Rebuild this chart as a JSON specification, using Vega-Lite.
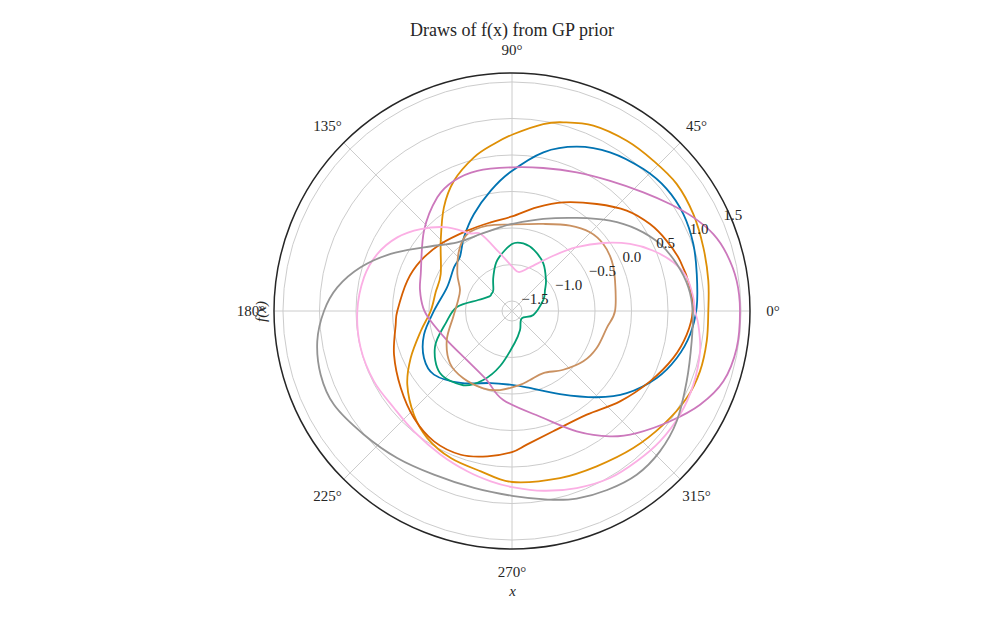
{
  "$schema": "https://vega.github.io/schema/vega-lite/v6.json",
  "width": 476,
  "height": 476,
  "autosize": "none",
  "padding": {"left": 274, "top": 73, "right": 250, "bottom": 69},
  "background": "white",
  "title": {"text": "Draws of f(x) from GP prior", "font": "Liberation Serif", "fontSize": 18, "fontWeight": "normal", "color": "#262626", "anchor": "middle", "offset": 3},
  "config": {
    "view": {"stroke": null},
    "axis": {"domain": false, "ticks": false, "labels": false, "grid": false, "titleFont": "Liberation Serif", "titleFontSize": 15, "titleFontWeight": "normal", "titleColor": "#262626", "titleFontStyle": "italic", "minExtent": 0},
    "axisX": {"titlePadding": 34},
    "axisY": {"titlePadding": 6}
  },
  "datasets": {
    "curves": [
      {"draw": "d0", "angle": 1.1, "f": 0.893}, {"draw": "d0", "angle": 11.3, "f": 0.944}, {"draw": "d0", "angle": 20.3, "f": 1.011}, {"draw": "d0", "angle": 29.5, "f": 1.06}, {"draw": "d0", "angle": 38.3, "f": 1.062}, {"draw": "d0", "angle": 47.2, "f": 1.012}, {"draw": "d0", "angle": 58.3, "f": 0.918}, {"draw": "d0", "angle": 68.5, "f": 0.782}, {"draw": "d0", "angle": 78.8, "f": 0.579}, {"draw": "d0", "angle": 90.8, "f": 0.263}, {"draw": "d0", "angle": 100, "f": 0.037}, {"draw": "d0", "angle": 111.4, "f": -0.21}, {"draw": "d0", "angle": 123.1, "f": -0.432}, {"draw": "d0", "angle": 133.8, "f": -0.607}, {"draw": "d0", "angle": 143, "f": -0.642}, {"draw": "d0", "angle": 160, "f": -0.69}, {"draw": "d0", "angle": 179.8, "f": -0.569}, {"draw": "d0", "angle": 195, "f": -0.389}, {"draw": "d0", "angle": 208.1, "f": -0.27}, {"draw": "d0", "angle": 219.2, "f": -0.258}, {"draw": "d0", "angle": 234.5, "f": -0.426}, {"draw": "d0", "angle": 253.5, "f": -0.608}, {"draw": "d0", "angle": 268.4, "f": -0.627}, {"draw": "d0", "angle": 280.9, "f": -0.573}, {"draw": "d0", "angle": 300, "f": -0.323}, {"draw": "d0", "angle": 314.5, "f": 0.019}, {"draw": "d0", "angle": 324.4, "f": 0.295}, {"draw": "d0", "angle": 335.2, "f": 0.548}, {"draw": "d0", "angle": 344.1, "f": 0.71}, {"draw": "d0", "angle": 352.4, "f": 0.823},

      {"draw": "d1", "angle": 0, "f": 1.052}, {"draw": "d1", "angle": 8.8, "f": 1.084}, {"draw": "d1", "angle": 18.4, "f": 1.125}, {"draw": "d1", "angle": 28.1, "f": 1.179}, {"draw": "d1", "angle": 37.6, "f": 1.212}, {"draw": "d1", "angle": 46.8, "f": 1.189}, {"draw": "d1", "angle": 56, "f": 1.175}, {"draw": "d1", "angle": 66.3, "f": 1.136}, {"draw": "d1", "angle": 74.8, "f": 1.041}, {"draw": "d1", "angle": 80.5, "f": 0.96}, {"draw": "d1", "angle": 89.4, "f": 0.788}, {"draw": "d1", "angle": 96.2, "f": 0.664}, {"draw": "d1", "angle": 103.9, "f": 0.531}, {"draw": "d1", "angle": 114, "f": 0.316}, {"draw": "d1", "angle": 123.3, "f": 0.062}, {"draw": "d1", "angle": 135.4, "f": -0.266}, {"draw": "d1", "angle": 152.6, "f": -0.537}, {"draw": "d1", "angle": 166, "f": -0.56}, {"draw": "d1", "angle": 180, "f": -0.523}, {"draw": "d1", "angle": 192.5, "f": -0.356}, {"draw": "d1", "angle": 204.9, "f": -0.107}, {"draw": "d1", "angle": 215.1, "f": 0.116}, {"draw": "d1", "angle": 226.6, "f": 0.318}, {"draw": "d1", "angle": 236.3, "f": 0.455}, {"draw": "d1", "angle": 247.4, "f": 0.545}, {"draw": "d1", "angle": 259, "f": 0.6}, {"draw": "d1", "angle": 270, "f": 0.705}, {"draw": "d1", "angle": 286, "f": 0.744}, {"draw": "d1", "angle": 298.6, "f": 0.786}, {"draw": "d1", "angle": 311.5, "f": 0.87}, {"draw": "d1", "angle": 323.1, "f": 0.956}, {"draw": "d1", "angle": 333.5, "f": 1.037}, {"draw": "d1", "angle": 342.2, "f": 1.067}, {"draw": "d1", "angle": 351.2, "f": 1.062},

      {"draw": "d2", "angle": 19.4, "f": -1.182}, {"draw": "d2", "angle": 32.5, "f": -1.101}, {"draw": "d2", "angle": 42.4, "f": -1.007}, {"draw": "d2", "angle": 56.7, "f": -0.856}, {"draw": "d2", "angle": 70, "f": -0.75}, {"draw": "d2", "angle": 80, "f": -0.7}, {"draw": "d2", "angle": 90, "f": -0.72}, {"draw": "d2", "angle": 106, "f": -0.91}, {"draw": "d2", "angle": 118.6, "f": -1.103}, {"draw": "d2", "angle": 131.7, "f": -1.252}, {"draw": "d2", "angle": 140, "f": -1.27}, {"draw": "d2", "angle": 147, "f": -1.27}, {"draw": "d2", "angle": 162, "f": -1.15}, {"draw": "d2", "angle": 175.8, "f": -0.88}, {"draw": "d2", "angle": 190, "f": -0.72}, {"draw": "d2", "angle": 204.9, "f": -0.474}, {"draw": "d2", "angle": 220.7, "f": -0.336}, {"draw": "d2", "angle": 236.7, "f": -0.42}, {"draw": "d2", "angle": 247.4, "f": -0.614}, {"draw": "d2", "angle": 258, "f": -0.87}, {"draw": "d2", "angle": 275, "f": -1.2}, {"draw": "d2", "angle": 293, "f": -1.355}, {"draw": "d2", "angle": 323, "f": -1.471}, {"draw": "d2", "angle": 349.4, "f": -1.34},

      {"draw": "d3", "angle": 0, "f": 0.838}, {"draw": "d3", "angle": 7.6, "f": 0.823}, {"draw": "d3", "angle": 16.7, "f": 0.766}, {"draw": "d3", "angle": 24.4, "f": 0.69}, {"draw": "d3", "angle": 32.2, "f": 0.597}, {"draw": "d3", "angle": 41.2, "f": 0.451}, {"draw": "d3", "angle": 51.6, "f": 0.233}, {"draw": "d3", "angle": 64.7, "f": 0.01}, {"draw": "d3", "angle": 76.6, "f": -0.177}, {"draw": "d3", "angle": 90, "f": -0.342}, {"draw": "d3", "angle": 103.5, "f": -0.388}, {"draw": "d3", "angle": 119.1, "f": -0.378}, {"draw": "d3", "angle": 136.8, "f": -0.297}, {"draw": "d3", "angle": 151.1, "f": -0.21}, {"draw": "d3", "angle": 163.9, "f": -0.144}, {"draw": "d3", "angle": 180, "f": -0.066}, {"draw": "d3", "angle": 186.7, "f": -0.033}, {"draw": "d3", "angle": 200.3, "f": 0.086}, {"draw": "d3", "angle": 214.7, "f": 0.216}, {"draw": "d3", "angle": 227.5, "f": 0.351}, {"draw": "d3", "angle": 239.1, "f": 0.444}, {"draw": "d3", "angle": 250.4, "f": 0.453}, {"draw": "d3", "angle": 260.4, "f": 0.382}, {"draw": "d3", "angle": 270, "f": 0.295}, {"draw": "d3", "angle": 276.3, "f": 0.205}, {"draw": "d3", "angle": 288.9, "f": 0.105}, {"draw": "d3", "angle": 305.8, "f": 0.114}, {"draw": "d3", "angle": 320.1, "f": 0.292}, {"draw": "d3", "angle": 333, "f": 0.485}, {"draw": "d3", "angle": 343.8, "f": 0.664}, {"draw": "d3", "angle": 352.3, "f": 0.778},

      {"draw": "d4", "angle": 0, "f": 1.486}, {"draw": "d4", "angle": 7.7, "f": 1.468}, {"draw": "d4", "angle": 14.9, "f": 1.405}, {"draw": "d4", "angle": 20.9, "f": 1.315}, {"draw": "d4", "angle": 27.3, "f": 1.159}, {"draw": "d4", "angle": 34.1, "f": 0.977}, {"draw": "d4", "angle": 42.1, "f": 0.788}, {"draw": "d4", "angle": 53, "f": 0.596}, {"draw": "d4", "angle": 65, "f": 0.459}, {"draw": "d4", "angle": 77.7, "f": 0.368}, {"draw": "d4", "angle": 90, "f": 0.331}, {"draw": "d4", "angle": 103.9, "f": 0.342}, {"draw": "d4", "angle": 114, "f": 0.316}, {"draw": "d4", "angle": 123.3, "f": 0.226}, {"draw": "d4", "angle": 137.6, "f": -0.005}, {"draw": "d4", "angle": 157.9, "f": -0.288}, {"draw": "d4", "angle": 167.1, "f": -0.344}, {"draw": "d4", "angle": 178, "f": -0.42}, {"draw": "d4", "angle": 186.3, "f": -0.507}, {"draw": "d4", "angle": 204, "f": -0.659}, {"draw": "d4", "angle": 227.2, "f": -0.723}, {"draw": "d4", "angle": 249.9, "f": -0.63}, {"draw": "d4", "angle": 264.4, "f": -0.412}, {"draw": "d4", "angle": 286.3, "f": -0.11}, {"draw": "d4", "angle": 298.3, "f": 0.234}, {"draw": "d4", "angle": 308, "f": 0.542}, {"draw": "d4", "angle": 315.6, "f": 0.753}, {"draw": "d4", "angle": 325.1, "f": 1.003}, {"draw": "d4", "angle": 333.5, "f": 1.241}, {"draw": "d4", "angle": 341.6, "f": 1.414}, {"draw": "d4", "angle": 350.6, "f": 1.482},

      {"draw": "d5", "angle": 0, "f": -0.226}, {"draw": "d5", "angle": 16.4, "f": -0.166}, {"draw": "d5", "angle": 26.8, "f": -0.107}, {"draw": "d5", "angle": 36.3, "f": -0.086}, {"draw": "d5", "angle": 45.3, "f": -0.119}, {"draw": "d5", "angle": 55.8, "f": -0.223}, {"draw": "d5", "angle": 70.2, "f": -0.37}, {"draw": "d5", "angle": 90, "f": -0.452}, {"draw": "d5", "angle": 106.1, "f": -0.421}, {"draw": "d5", "angle": 120.1, "f": -0.418}, {"draw": "d5", "angle": 131.3, "f": -0.537}, {"draw": "d5", "angle": 145.9, "f": -0.733}, {"draw": "d5", "angle": 158, "f": -0.869}, {"draw": "d5", "angle": 172, "f": -0.88}, {"draw": "d5", "angle": 185.5, "f": -0.829}, {"draw": "d5", "angle": 204, "f": -0.659}, {"draw": "d5", "angle": 220.1, "f": -0.526}, {"draw": "d5", "angle": 234.1, "f": -0.499}, {"draw": "d5", "angle": 249.6, "f": -0.507}, {"draw": "d5", "angle": 261.4, "f": -0.542}, {"draw": "d5", "angle": 276.2, "f": -0.618}, {"draw": "d5", "angle": 284.6, "f": -0.66}, {"draw": "d5", "angle": 296.8, "f": -0.685}, {"draw": "d5", "angle": 311.1, "f": -0.569}, {"draw": "d5", "angle": 324.8, "f": -0.441}, {"draw": "d5", "angle": 336.4, "f": -0.371}, {"draw": "d5", "angle": 349.8, "f": -0.319},

      {"draw": "d6", "angle": 0, "f": 0.87}, {"draw": "d6", "angle": 4.3, "f": 0.853}, {"draw": "d6", "angle": 10.9, "f": 0.8}, {"draw": "d6", "angle": 16.8, "f": 0.671}, {"draw": "d6", "angle": 23.1, "f": 0.467}, {"draw": "d6", "angle": 29.6, "f": 0.222}, {"draw": "d6", "angle": 36.7, "f": -0.078}, {"draw": "d6", "angle": 44.6, "f": -0.393}, {"draw": "d6", "angle": 53.2, "f": -0.692}, {"draw": "d6", "angle": 67.6, "f": -0.989}, {"draw": "d6", "angle": 79.8, "f": -1.095}, {"draw": "d6", "angle": 90, "f": -1.027}, {"draw": "d6", "angle": 102.7, "f": -0.808}, {"draw": "d6", "angle": 112.1, "f": -0.499}, {"draw": "d6", "angle": 118.4, "f": -0.427}, {"draw": "d6", "angle": 127.7, "f": -0.188}, {"draw": "d6", "angle": 138.1, "f": 0.044}, {"draw": "d6", "angle": 147.3, "f": 0.23}, {"draw": "d6", "angle": 157.1, "f": 0.367}, {"draw": "d6", "angle": 167.2, "f": 0.442}, {"draw": "d6", "angle": 180, "f": 0.482}, {"draw": "d6", "angle": 193.7, "f": 0.497}, {"draw": "d6", "angle": 207, "f": 0.485}, {"draw": "d6", "angle": 219.4, "f": 0.455}, {"draw": "d6", "angle": 230.8, "f": 0.489}, {"draw": "d6", "angle": 243.6, "f": 0.56}, {"draw": "d6", "angle": 254.4, "f": 0.642}, {"draw": "d6", "angle": 262.9, "f": 0.714}, {"draw": "d6", "angle": 270, "f": 0.774}, {"draw": "d6", "angle": 279.9, "f": 0.862}, {"draw": "d6", "angle": 290.1, "f": 0.945}, {"draw": "d6", "angle": 300.4, "f": 1.015}, {"draw": "d6", "angle": 309.7, "f": 1.038}, {"draw": "d6", "angle": 318.6, "f": 1.064}, {"draw": "d6", "angle": 328.3, "f": 1.067}, {"draw": "d6", "angle": 337.9, "f": 1.044}, {"draw": "d6", "angle": 347.9, "f": 0.997}, {"draw": "d6", "angle": 355.8, "f": 0.922},

      {"draw": "d7", "angle": 0, "f": 0.838}, {"draw": "d7", "angle": 7.7, "f": 0.8}, {"draw": "d7", "angle": 15.9, "f": 0.71}, {"draw": "d7", "angle": 24.4, "f": 0.589}, {"draw": "d7", "angle": 33.3, "f": 0.407}, {"draw": "d7", "angle": 42.7, "f": 0.189}, {"draw": "d7", "angle": 55.2, "f": -0.085}, {"draw": "d7", "angle": 71.2, "f": -0.305}, {"draw": "d7", "angle": 90, "f": -0.445}, {"draw": "d7", "angle": 97.7, "f": -0.479}, {"draw": "d7", "angle": 112.1, "f": -0.499}, {"draw": "d7", "angle": 128.5, "f": -0.434}, {"draw": "d7", "angle": 144.1, "f": -0.149}, {"draw": "d7", "angle": 154.8, "f": 0.199}, {"draw": "d7", "angle": 163.9, "f": 0.521}, {"draw": "d7", "angle": 172.3, "f": 0.778}, {"draw": "d7", "angle": 180, "f": 0.938}, {"draw": "d7", "angle": 188.8, "f": 1.062}, {"draw": "d7", "angle": 198.4, "f": 1.125}, {"draw": "d7", "angle": 207.8, "f": 1.119}, {"draw": "d7", "angle": 219.9, "f": 1.005}, {"draw": "d7", "angle": 232, "f": 0.918}, {"draw": "d7", "angle": 244.5, "f": 0.847}, {"draw": "d7", "angle": 257.9, "f": 0.842}, {"draw": "d7", "angle": 270, "f": 0.895}, {"draw": "d7", "angle": 280.8, "f": 0.992}, {"draw": "d7", "angle": 289, "f": 1.08}, {"draw": "d7", "angle": 298, "f": 1.14}, {"draw": "d7", "angle": 307.3, "f": 1.182}, {"draw": "d7", "angle": 316.5, "f": 1.156}, {"draw": "d7", "angle": 326.2, "f": 1.078}, {"draw": "d7", "angle": 338.1, "f": 0.942}, {"draw": "d7", "angle": 350.4, "f": 0.859}
    ],
    "rings": [{"f": -1.5}, {"f": -1.0}, {"f": -0.5}, {"f": 0.0}, {"f": 0.5}, {"f": 1.0}, {"f": 1.5}],
    "outer": [{"f": 1.623}],
    "spokes": [{"angle": 0}, {"angle": 45}, {"angle": 90}, {"angle": 135}, {"angle": 180}, {"angle": 225}, {"angle": 270}, {"angle": 315}],
    "anglabels": [
      {"angle": 0, "label": "0°"}, {"angle": 45, "label": "45°"}, {"angle": 90, "label": "90°"}, {"angle": 135, "label": "135°"},
      {"angle": 180, "label": "180°"}, {"angle": 225, "label": "225°"}, {"angle": 270, "label": "270°"}, {"angle": 315, "label": "315°"}
    ],
    "rlabels": [
      {"f": -1.5, "label": "−1.5"}, {"f": -1.0, "label": "−1.0"}, {"f": -0.5, "label": "−0.5"}, {"f": 0.0, "label": "0.0"},
      {"f": 0.5, "label": "0.5"}, {"f": 1.0, "label": "1.0"}, {"f": 1.5, "label": "1.5"}
    ]
  },
  "layer": [
    {
      "data": {"name": "spokes"},
      "transform": [
        {"calculate": "0", "as": "cx"},
        {"calculate": "0", "as": "cy"},
        {"calculate": "3.26 * cos(datum.angle * PI / 180)", "as": "ex"},
        {"calculate": "3.26 * sin(datum.angle * PI / 180)", "as": "ey"}
      ],
      "mark": {"type": "rule", "color": "#cccccc", "strokeWidth": 1},
      "encoding": {
        "x": {"field": "cx", "type": "quantitative", "scale": {"domain": [-3.26, 3.26], "nice": false, "zero": false}, "title": "x"},
        "y": {"field": "cy", "type": "quantitative", "scale": {"domain": [-3.26, 3.26], "nice": false, "zero": false}, "title": "f(x)"},
        "x2": {"field": "ex"},
        "y2": {"field": "ey"}
      }
    },
    {
      "data": {"name": "rings"},
      "mark": {"type": "arc", "theta": 0, "theta2": 6.2832, "radius2": 0, "filled": false, "stroke": "#cccccc", "strokeWidth": 1},
      "encoding": {
        "radius": {"field": "f", "type": "quantitative", "stack": null, "scale": {"type": "linear", "domain": [-1.637, 1.623], "range": [0, 238], "zero": false, "nice": false}}
      }
    },
    {
      "data": {"name": "outer"},
      "mark": {"type": "arc", "theta": 0, "theta2": 6.2832, "radius2": 0, "filled": false, "stroke": "#262626", "strokeWidth": 1.5},
      "encoding": {
        "radius": {"field": "f", "type": "quantitative", "stack": null, "scale": {"type": "linear", "domain": [-1.637, 1.623], "range": [0, 238], "zero": false, "nice": false}}
      }
    },
    {
      "data": {"name": "curves"},
      "transform": [
        {"calculate": "(datum.f + 1.637) * cos(datum.angle * PI / 180)", "as": "px"},
        {"calculate": "(datum.f + 1.637) * sin(datum.angle * PI / 180)", "as": "py"}
      ],
      "mark": {"type": "line", "interpolate": "cardinal-closed", "strokeWidth": 1.8},
      "encoding": {
        "x": {"field": "px", "type": "quantitative", "title": "x"},
        "y": {"field": "py", "type": "quantitative", "title": "f(x)"},
        "color": {"field": "draw", "type": "nominal", "legend": null,
          "scale": {"domain": ["d0", "d1", "d2", "d3", "d4", "d5", "d6", "d7"], "range": ["#0173B2", "#DE8F05", "#029E73", "#D55E00", "#CC78BC", "#CA9161", "#FBAFE4", "#949494"]}},
        "order": {"field": "angle", "type": "quantitative"}
      }
    },
    {
      "data": {"name": "anglabels"},
      "transform": [
        {"calculate": "3.575 * cos(datum.angle * PI / 180)", "as": "lx"},
        {"calculate": "3.575 * sin(datum.angle * PI / 180)", "as": "ly"}
      ],
      "mark": {"type": "text", "font": "Liberation Serif", "fontSize": 15, "color": "#262626", "align": "center", "baseline": "middle"},
      "encoding": {
        "x": {"field": "lx", "type": "quantitative", "title": "x"},
        "y": {"field": "ly", "type": "quantitative", "title": "f(x)"},
        "text": {"field": "label"}
      }
    },
    {
      "data": {"name": "rlabels"},
      "transform": [
        {"calculate": "(datum.f + 1.637) * cos(22.5 * PI / 180)", "as": "lx"},
        {"calculate": "(datum.f + 1.637) * sin(22.5 * PI / 180)", "as": "ly"}
      ],
      "mark": {"type": "text", "font": "Liberation Serif", "fontSize": 15, "color": "#262626", "align": "left", "baseline": "alphabetic", "dy": -3},
      "encoding": {
        "x": {"field": "lx", "type": "quantitative", "title": "x"},
        "y": {"field": "ly", "type": "quantitative", "title": "f(x)"},
        "text": {"field": "label"}
      }
    }
  ]
}
